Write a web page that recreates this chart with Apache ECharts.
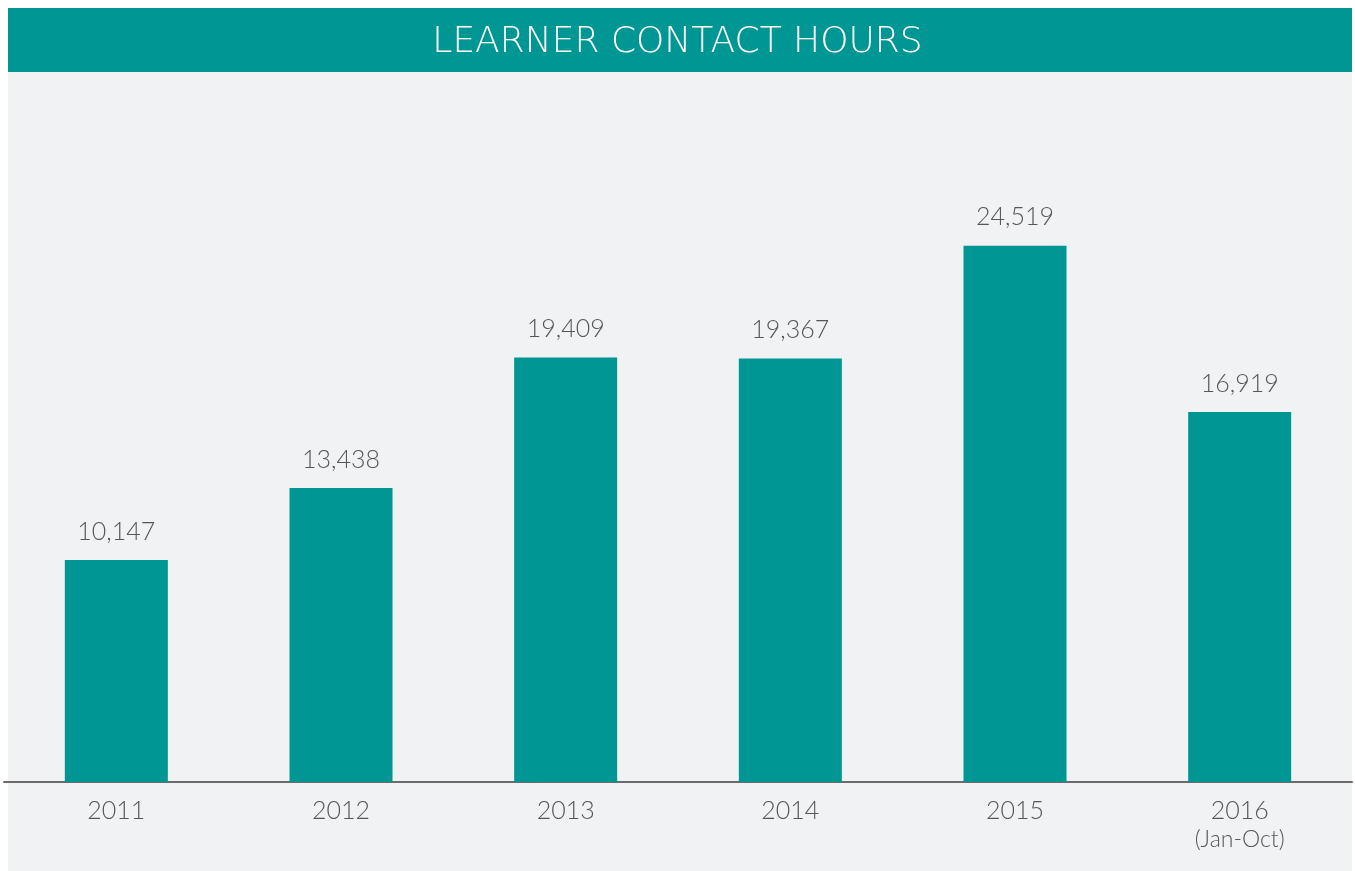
<!DOCTYPE html>
<html>
<head>
<meta charset="utf-8">
<title>Learner Contact Hours</title>
<script src="https://cdn.jsdelivr.net/npm/echarts@6/dist/echarts.min.js"></script>
<style>
  html, body { margin: 0; padding: 0; background: #ffffff; }
  #chart { width: 1355px; height: 871px; }
</style>
</head>
<body>
<div id="chart"></div>
<script>
/* 数据 */
const years = ['2011', '2012', '2013', '2014', '2015', '2016']
const yearNotes = ['', '', '', '', '', '(Jan-Oct)']
const contactHours = [10147, 13438, 19409, 19367, 24519, 16919]

const teal = '#009694'
const textGrey = '#53565a'

var myChart = echarts.init(document.getElementById('chart'))

const option = {
  backgroundColor: '#ffffff',
  title: {
    text: 'LEARNER CONTACT HOURS',
    left: 'center',
    top: 20,
    textStyle: {
      color: '#ffffff',
      fontFamily: 'DejaVu Sans',
      fontWeight: 300,
      fontSize: 36,
    },
  },
  // 标题底色 + 灰色面板
  graphic: [
    {
      type: 'rect',
      z: -10,
      shape: { x: 8, y: 8, width: 1344, height: 64 },
      style: { fill: teal },
    },
    {
      type: 'rect',
      z: -10,
      shape: { x: 8, y: 72, width: 1344, height: 799 },
      style: { fill: '#f1f2f4' },
    },
  ],
  grid: {
    left: 4,
    right: 3,
    top: 104,
    bottom: 89,
  },
  xAxis: {
    type: 'category',
    data: years,
    axisLine: { lineStyle: { color: '#6b6b6b', width: 2 } },
    axisTick: { show: false },
    axisLabel: {
      interval: 0,
      margin: 15,
      color: textGrey,
      fontFamily: 'Lato',
      fontWeight: 300,
      fontSize: 25,
      lineHeight: 28,
      formatter: (value, idx) => {
        const note = yearNotes[idx]
        return note ? value + '\n{note|' + note + '}' : value
      },
      rich: {
        note: {
          color: textGrey,
          fontFamily: 'Lato',
          fontWeight: 300,
          fontSize: 23,
          lineHeight: 30,
        },
      },
    },
  },
  yAxis: {
    type: 'value',
    min: 0,
    max: 31000,
    show: false,
    splitLine: { show: false },
  },
  series: [
    {
      type: 'bar',
      data: contactHours,
      barWidth: 103,
      itemStyle: { color: teal },
      label: {
        show: true,
        position: 'top',
        distance: 16,
        color: textGrey,
        fontFamily: 'Lato',
        fontWeight: 300,
        fontSize: 25,
        formatter: (p) => p.value.toLocaleString('en-US'),
      },
    },
  ],
}
myChart.setOption(option)
</script>
</body>
</html>
